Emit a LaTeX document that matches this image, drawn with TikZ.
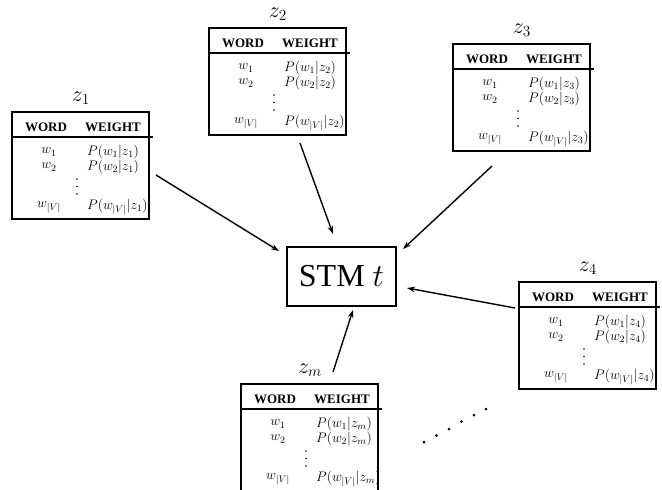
\documentclass[tikz,border=0pt]{standalone}
\usepackage{fix-cm}
\usepackage[no-math]{fontspec}
\setmainfont{Liberation Serif}
\usetikzlibrary{arrows.meta,calc}
\tikzset{
  tbox/.style={draw,line width=1.3pt,minimum width=137pt,minimum height=107pt,inner sep=0pt},
  hdr/.style={font=\fontsize{13}{15}\selectfont\bfseries,inner sep=0pt},
  cell/.style={font=\fontsize{13.8}{15}\selectfont,inner sep=0pt},
  pcell/.style={cell,anchor=west},
  zlab/.style={font=\fontsize{22}{26}\selectfont,inner sep=0pt},
  stmbox/.style={draw,line width=1.3pt,minimum width=109pt,minimum height=59pt,inner sep=0pt,font=\fontsize{32}{36}\selectfont},
  arr/.style={-{Stealth[length=8pt,width=5.5pt]},line width=1.4pt},
  rulel/.style={line width=1.3pt},
  vdot/.style={fill=black},
}
\newcommand\wtable[4]{%
  \node[tbox] (#1) at (#2+68.5,#3+53.5) {};
  \node[zlab] (#1-lab) at (#2+69,#3-14) {$z_{#4}$};
  \node[hdr] (#1-h1) at (#2+34,#3+15) {WORD};
  \node[hdr] (#1-h2) at (#2+101,#3+15) {WEIGHT};
  \draw[rulel] (#2,#3+25) -- (#2+141,#3+25);
  \node[cell] (#1-w1) at (#2+37,#3+40) {$w_1$};
  \node[pcell] (#1-p1) at (#2+75,#3+40) {$P(w_1|z_{#4})$};
  \node[cell] (#1-w2) at (#2+37,#3+55) {$w_2$};
  \node[pcell] (#1-p2) at (#2+75,#3+55) {$P(w_2|z_{#4})$};
  \fill[vdot] (#2+65,#3+67) circle (0.8pt) (#2+65,#3+74.5) circle (0.8pt) (#2+65,#3+82) circle (0.8pt);
  \node[cell] (#1-w3) at (#2+37,#3+95) {$w_{|V|}$};
  \node[pcell] (#1-p3) at (#2+75,#3+95) {$P(w_{|V|}|z_{#4})$};
}
\begin{document}
\begin{tikzpicture}[x=1pt,y=-1pt]
  \useasboundingbox (0,0) rectangle (662,490);
  \clip (0,0) rectangle (662,490);
  \wtable{t1}{12}{112}{1}
  \wtable{t2}{209}{28}{2}
  \wtable{t3}{453}{44}{3}
  \wtable{t4}{519}{282}{4}
  \wtable{tm}{241}{384}{m}
  \node[stmbox] (stm) at (341.5,276.5) {STM $t$};
  \coordinate (a1s) at (156,175);  \coordinate (a1e) at (279,251);
  \coordinate (a2s) at (300,143);  \coordinate (a2e) at (333,234);
  \coordinate (a3s) at (492,166);  \coordinate (a3e) at (403,249);
  \coordinate (a4s) at (515,308);  \coordinate (a4e) at (407,288);
  \coordinate (a5s) at (333,372);  \coordinate (a5e) at (353,310);
  \draw[arr] (a1s) -- (a1e);
  \draw[arr] (a2s) -- (a2e);
  \draw[arr] (a3s) -- (a3e);
  \draw[arr] (a4s) -- (a4e);
  \draw[arr] (a5s) -- (a5e);
  \foreach \i/\x/\y in {1/424/442,2/436.5/435.5,3/449/429,4/461.5/421.5,5/474/415,6/486/409}
    \fill[vdot] (\x,\y) circle (1.5pt);
\end{tikzpicture}
\end{document}
